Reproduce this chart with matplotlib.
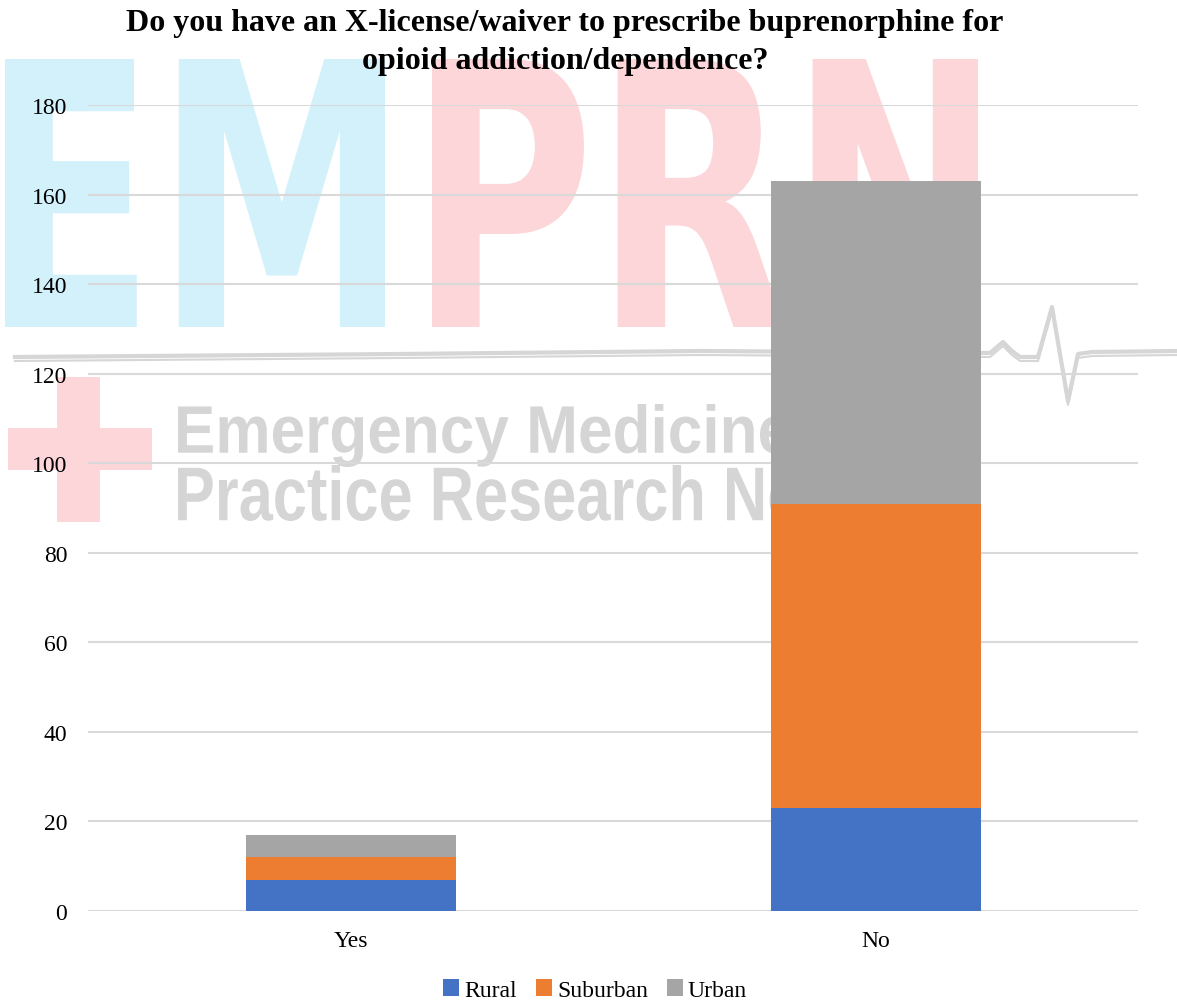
import matplotlib.pyplot as plt
from matplotlib.textpath import TextPath
from matplotlib.patches import PathPatch, Rectangle
from matplotlib.font_manager import FontProperties
from matplotlib.transforms import Affine2D, IdentityTransform
from matplotlib.lines import Line2D

# data
categories = ["Yes", "No"]
rural = [7, 23]
suburban = [5, 68]
urban = [5, 72]
series_names = ["Rural", "Suburban", "Urban"]
colors = ["#4472C4", "#ED7D31", "#A5A5A5"]
title = ("Do you have an X-license/waiver to prescribe buprenorphine for\n"
         "opioid addiction/dependence?")

W, H = 1177, 1004
fig = plt.figure(figsize=(W / 100, H / 100), dpi=100)


def fit_text(s, box, color, font):
    # put a text path into a pixel box (x0, y0 top, x1, y1 bottom), image coords
    tp = TextPath((0, 0), s, size=100, prop=font)
    ext = tp.get_extents()
    x0, ytop, x1, ybot = box
    sx = (x1 - x0) / ext.width
    sy = (ybot - ytop) / ext.height
    tr = (Affine2D().translate(-ext.x0, -ext.y0).scale(sx, sy)
          .translate(x0, H - ybot))
    p = PathPatch(tr.transform_path(tp), fc=color, ec="none",
                  transform=IdentityTransform(), zorder=-5)
    fig.patches.append(p)
    return p


# watermark logo in the background
heavy = FontProperties(family="DejaVu Sans", weight="bold")
fit_text("EM", (5, 60, 385, 328), "#d2f1fb", heavy)
fit_text("PRN", (432, 60, 978, 328), "#fdd6d9", heavy)
plain = FontProperties(family="Liberation Sans", weight="bold")
fit_text("Emergency Medicine", (178, 405, 790, 468), "#d5d5d5", plain)
fit_text("Practice Research Network", (178, 466, 965, 522), "#d5d5d5", plain)
for rx, ry, rw, rh in [(57, 378, 43, 145), (8, 429, 144, 42)]:
    fig.patches.append(Rectangle((rx, H - ry - rh), rw, rh, fc="#fdd6d9",
                                 ec="none", transform=IdentityTransform(),
                                 zorder=-5))
ecg_x = [15, 400, 700, 990, 1003, 1012, 1020, 1038, 1052, 1068, 1078, 1092, 1177]
ecg_y = [358, 355, 352, 354, 343, 352, 358, 358, 308, 402, 355, 353, 352]
for dy, lw in [(0, 3.0), (4, 1.5)]:
    fig.lines.append(Line2D(ecg_x, [H - v - dy for v in ecg_y], color="#d6d6d6",
                            lw=lw, transform=IdentityTransform(), zorder=-4))

ax = fig.add_axes([88 / W, 1 - 912 / H, 1050 / W, 806 / H])
ax.set_facecolor("none")

x = range(len(categories))
bottom = [0] * len(categories)
for vals, name, c in zip([rural, suburban, urban], series_names, colors):
    ax.bar(x, vals, 0.4, bottom=bottom, color=c, label=name, zorder=3)
    bottom = [b + v for b, v in zip(bottom, vals)]

ax.set_xlim(-0.5, 1.5)
ax.set_ylim(0, 180)
ax.set_yticks(range(0, 181, 20))
ax.set_xticks(list(x))
ax.set_xticklabels(categories)
ax.grid(axis="y", color="#d9d9d9", lw=1.5, zorder=0)
for s in ax.spines.values():
    s.set_visible(False)
ax.tick_params(length=0, labelsize=17, pad=14)
ax.tick_params(axis="y", pad=15)
for lab in ax.get_xticklabels() + ax.get_yticklabels():
    lab.set_family("Liberation Serif")

fig.text(565 / W, 1 - 9 / H, title, ha="center", va="top", fontsize=23,
         fontweight="bold", family="Liberation Serif", linespacing=1.4)

fig.legend(loc="center", bbox_to_anchor=(595 / W, 1 - 991 / H), ncol=3,
           frameon=False, handlelength=0.7, handleheight=0.7,
           handletextpad=0.2, columnspacing=0.8,
           prop=FontProperties(family="Liberation Serif", size=17))

fig.savefig("out.png", dpi=100)
